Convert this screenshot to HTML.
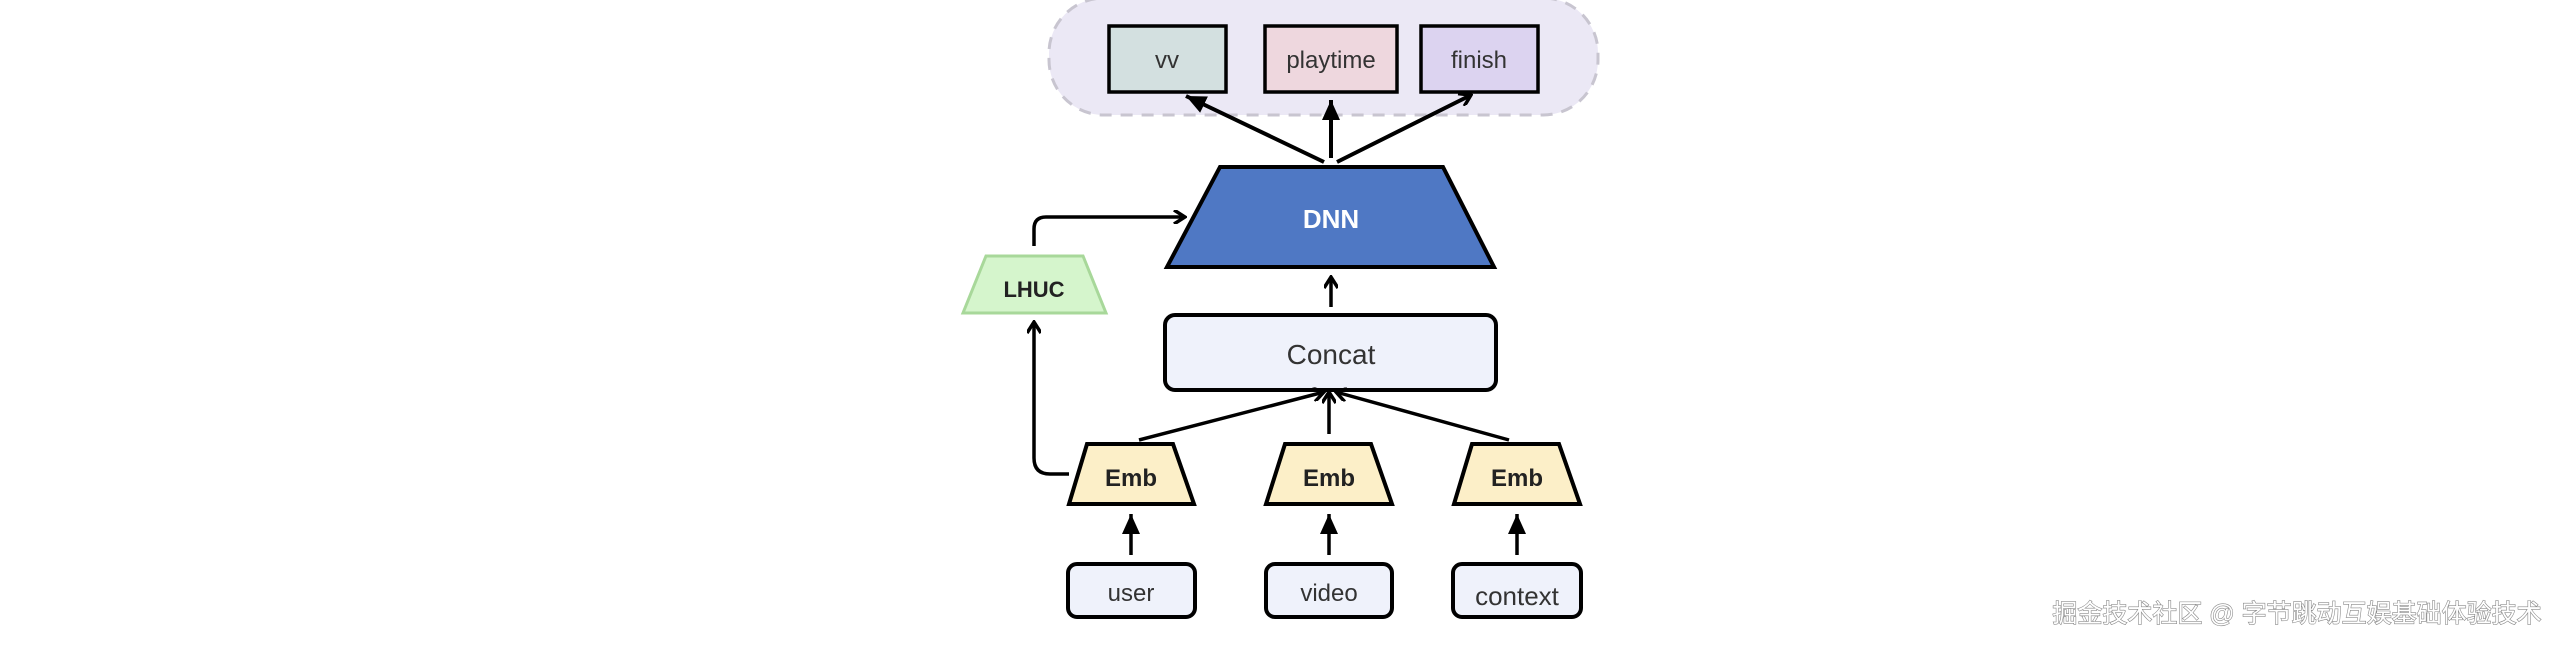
<!DOCTYPE html>
<html><head><meta charset="utf-8"><style>
html,body{margin:0;padding:0;background:#fff;width:2560px;height:648px;overflow:hidden}
svg{display:block}
text{font-family:"Liberation Sans","Noto Sans CJK SC",sans-serif}
</style></head><body>
<svg width="2560" height="648" viewBox="0 0 2560 648" xmlns="http://www.w3.org/2000/svg">
<defs>
<marker id="open" markerWidth="14" markerHeight="14" refX="12" refY="7" orient="auto" markerUnits="userSpaceOnUse"><path d="M1,0 L12,7 L1,14" fill="none" stroke="#000" stroke-width="3.5"/></marker>
<marker id="fill" markerWidth="22" markerHeight="22" refX="20" refY="11" orient="auto" markerUnits="userSpaceOnUse"><path d="M0,2 L20,11 L0,20 Z" fill="#000"/></marker>
</defs>
<rect x="1049" y="-2" width="549" height="117" rx="55" fill="#ebe8f5" stroke="#c8c5d0" stroke-width="3" stroke-dasharray="12,9"/>
<rect x="1109" y="26" width="117" height="66" fill="#d3e0e0" stroke="#000" stroke-width="3.5"/>
<text x="1167" y="68" font-size="24" text-anchor="middle" fill="#333">vv</text>
<rect x="1265" y="26" width="132" height="66" fill="#eed7de" stroke="#000" stroke-width="3.5"/>
<text x="1331" y="68" font-size="24" text-anchor="middle" fill="#333">playtime</text>
<rect x="1421" y="26" width="117" height="66" fill="#dcd3f0" stroke="#000" stroke-width="3.5"/>
<text x="1479" y="68" font-size="24" text-anchor="middle" fill="#333">finish</text>
<line x1="1324" y1="162" x2="1186" y2="96" stroke="#000" stroke-width="4" marker-end="url(#fill)"/>
<line x1="1331" y1="158" x2="1331" y2="100" stroke="#000" stroke-width="4" marker-end="url(#fill)"/>
<line x1="1337" y1="162" x2="1471" y2="95" stroke="#000" stroke-width="4" marker-end="url(#open)"/>
<polygon points="1220,167 1443,167 1494,267 1167,267" fill="#4f78c4" stroke="#000" stroke-width="4"/>
<text x="1331" y="228" font-size="26" font-weight="bold" text-anchor="middle" fill="#fff">DNN</text>
<path d="M1034,246 L1034,229 Q1034,217 1046,217 L1185,217" fill="none" stroke="#000" stroke-width="3.5" marker-end="url(#open)"/>
<polygon points="986,256 1083,256 1106,313 963,313" fill="#d5f5cc" stroke="#a8d89a" stroke-width="3"/>
<text x="1034" y="297" font-size="22" font-weight="bold" text-anchor="middle" fill="#222">LHUC</text>
<line x1="1331" y1="307" x2="1331" y2="277" stroke="#000" stroke-width="3.5" marker-end="url(#open)"/>
<rect x="1165" y="315" width="331" height="75" rx="10" fill="#eff2fb" stroke="#000" stroke-width="4"/>
<text x="1331" y="364" font-size="28" text-anchor="middle" fill="#333">Concat</text>
<line x1="1139" y1="440" x2="1324" y2="392" stroke="#000" stroke-width="3.5" marker-end="url(#open)"/>
<line x1="1329" y1="434" x2="1329" y2="392" stroke="#000" stroke-width="3.5" marker-end="url(#open)"/>
<line x1="1509" y1="440" x2="1336" y2="392" stroke="#000" stroke-width="3.5" marker-end="url(#open)"/>
<path d="M1069,474 L1050,474 Q1034,474 1034,458 L1034,322" fill="none" stroke="#000" stroke-width="3.5" marker-end="url(#open)"/>
<g fill="#fcefc8" stroke="#000" stroke-width="4">
<polygon points="1087,444 1173,444 1194,504 1069,504"/>
<polygon points="1285,444 1371,444 1392,504 1266,504"/>
<polygon points="1472,444 1559,444 1580,504 1454,504"/>
</g>
<g font-size="24" font-weight="bold" text-anchor="middle" fill="#222">
<text x="1131" y="486">Emb</text><text x="1329" y="486">Emb</text><text x="1517" y="486">Emb</text>
</g>
<line x1="1131" y1="555" x2="1131" y2="514" stroke="#000" stroke-width="3.5" marker-end="url(#fill)"/>
<line x1="1329" y1="555" x2="1329" y2="514" stroke="#000" stroke-width="3.5" marker-end="url(#fill)"/>
<line x1="1517" y1="555" x2="1517" y2="514" stroke="#000" stroke-width="3.5" marker-end="url(#fill)"/>
<g fill="#eff2fb" stroke="#000" stroke-width="4">
<rect x="1068" y="564" width="127" height="53" rx="9"/>
<rect x="1266" y="564" width="126" height="53" rx="9"/>
<rect x="1453" y="564" width="128" height="53" rx="9"/>
</g>
<g font-size="24" text-anchor="middle" fill="#333">
<text x="1131" y="601">user</text><text x="1329" y="601">video</text><text x="1517" y="605" font-size="26">context</text>
</g>
<text x="2297" y="622" font-size="25" text-anchor="middle" fill="#fff" stroke="#888" stroke-width="1.2" paint-order="stroke">掘金技术社区 @ 字节跳动互娱基础体验技术</text>
</svg>
</body></html>
